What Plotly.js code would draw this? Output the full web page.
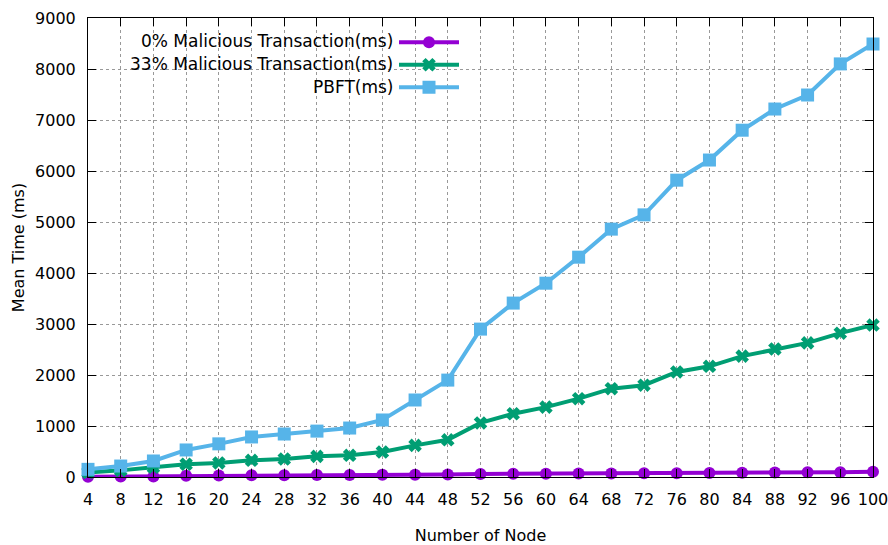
<!DOCTYPE html>
<html>
<head>
<meta charset="utf-8">
<script src="https://cdn.plot.ly/plotly-3.0.1.min.js"></script>
<style>html,body{margin:0;padding:0;background:#fff}#chart{width:888px;height:545px}</style>
</head>
<body>
<div id="chart"></div>
<script>
var nodes = [4,8,12,16,20,24,28,32,36,40,44,48,52,56,60,64,68,72,76,80,84,88,92,96,100];
var malicious0 = [5,8,12,25,30,33,36,38,40,42,45,48,60,62,65,68,70,72,75,78,85,88,92,95,105];
var malicious33 = [90,130,190,250,275,327,353,405,425,490,620,730,1060,1240,1370,1536,1732,1800,2060,2170,2370,2510,2630,2820,2980];
var pbft = [150,215,314,530,650,785,843,900,960,1118,1510,1900,2900,3410,3800,4310,4860,5140,5820,6215,6800,7215,7490,8100,8490];
var seriesNames = ["0% Malicious Transaction(ms)", "33% Malicious Transaction(ms)", "PBFT(ms)"];
var yTicks = [0,1000,2000,3000,4000,5000,6000,7000,8000,9000];

var font = "DejaVu Sans, Verdana, sans-serif";
function tr(y, name, color, symbol, size, grp) {
  return {x: nodes, y: y, name: "", legendgroup: grp, type: "scatter", mode: "lines+markers",
    line: {color: color, width: 4}, marker: {color: color, symbol: symbol, size: size, line: {width: 0}},
    cliponaxis: false, hoverinfo: "x+y"};
}
var data = [
  tr(malicious0, seriesNames[0], "#9400D3", "circle", 12, "a"),
  tr(malicious33, seriesNames[1], "#009E73", "x", 12, "b"),
  tr(pbft, seriesNames[2], "#56B4E9", "square", 13, "c")
];
function px(x){return (x-88)/785;}
function py(y){return (477-y)/459;}
var layout = {
  width: 888, height: 545,
  margin: {l: 88, r: 15, t: 18, b: 68},
  paper_bgcolor: "#fff", plot_bgcolor: "#fff",
  font: {family: font, size: 16, color: "#000"},
  showlegend: true,
  legend: {x: px(394), y: py(26), xanchor: "left", yanchor: "top", bgcolor: "rgba(0,0,0,0)",
    traceorder: "grouped", tracegroupgap: 0, font: {size: 15}, itemwidth: 60},
  xaxis: {range: [4, 100], tickvals: nodes, ticks: "inside", ticklen: 8, tickcolor: "#000",
    showline: true, linecolor: "#000", linewidth: 1, mirror: "ticks",
    showgrid: true, gridcolor: "#999", griddash: "dot", gridwidth: 1, zeroline: false,
    ticklabelstandoff: 8, ticklabeloverflow: "allow",
    title: {text: "Number of Node", standoff: 21, font: {size: 16}}},
  yaxis: {range: [0, 9000], tickvals: yTicks, ticks: "inside", ticklen: 8, tickcolor: "#000",
    showline: true, linecolor: "#000", linewidth: 1, mirror: "ticks",
    showgrid: true, gridcolor: "#999", griddash: "dot", gridwidth: 1, zeroline: false,
    ticklabelstandoff: 8, ticklabeloverflow: "allow",
    title: {text: "Mean Time (ms)", standoff: 6, font: {size: 16}}},
  shapes: [{type: "rect", xref: "paper", yref: "paper", x0: px(100), x1: px(460), y0: py(99), y1: py(27),
    fillcolor: "#fff", line: {width: 0}, layer: "between"}],
  annotations: seriesNames.map(function(n, i){
    return {text: n, xref: "paper", yref: "paper", x: px(395), y: py(41 + 23*i), xanchor: "right", yanchor: "middle",
      showarrow: false, font: {size: 17, color: "#000"}};
  })
};
Plotly.newPlot("chart", data, layout, {displayModeBar: false, staticPlot: true});
</script>
</body>
</html>
